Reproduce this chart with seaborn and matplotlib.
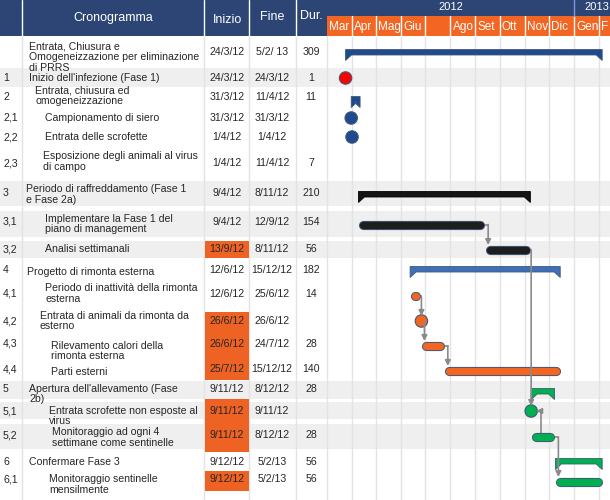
import datetime as dt
import matplotlib
matplotlib.use('Agg')
import matplotlib.pyplot as plt
import matplotlib.dates as mdates
from matplotlib.patches import Rectangle, Polygon
import pandas as pd
import seaborn as sns

# Data
ids = ['', '1', '2', '2,1', '2,2', '2,3', '3', '3,1', '3,2', '4', '4,1', '4,2',
       '4,3', '4,4', '5', '5,1', '5,2', '6', '6,1']
names = [
    "Entrata, Chiusura e\nOmogeneizzazione per eliminazione\ndi PRRS",
    "Inizio dell'infezione (Fase 1)",
    "Entrata, chiusura ed\nomogeneizzazione",
    "Campionamento di siero",
    "Entrata delle scrofette",
    "Esposizione degli animali al virus\ndi campo",
    "Periodo di raffreddamento (Fase 1\ne Fase 2a)",
    "Implementare la Fase 1 del\npiano di management",
    "Analisi settimanali",
    "Progetto di rimonta esterna",
    "Periodo di inattività della rimonta\nesterna",
    "Entrata di animali da rimonta da\nesterno",
    "Rilevamento calori della\nrimonta esterna",
    "Parti esterni",
    "Apertura dell'allevamento (Fase\n2b)",
    "Entrata scrofette non esposte al\nvirus",
    "Monitoraggio ad ogni 4\nsettimane come sentinelle",
    "Confermare Fase 3",
    "Monitoraggio sentinelle\nmensilmente",
]
starts = ['24/3/12', '24/3/12', '31/3/12', '31/3/12', '1/4/12', '1/4/12', '9/4/12',
          '9/4/12', '13/9/12', '12/6/12', '12/6/12', '26/6/12', '26/6/12', '25/7/12',
          '9/11/12', '9/11/12', '9/11/12', '9/12/12', '9/12/12']
ends = ['5/2/ 13', '24/3/12', '11/4/12', '31/3/12', '1/4/12', '11/4/12', '8/11/12',
        '12/9/12', '8/11/12', '15/12/12', '25/6/12', '26/6/12', '24/7/12', '15/12/12',
        '8/12/12', '9/11/12', '8/12/12', '5/2/13', '5/2/13']
durs = ['309', '1', '11', '', '', '7', '210', '154', '56', '182', '14', '', '28', '140',
        '28', '', '28', '56', '56']
kinds = ['summary', 'milestone', 'summary', 'milestone', 'milestone', 'task', 'summary',
         'task', 'task', 'summary', 'task', 'milestone', 'task', 'task', 'summary',
         'milestone', 'task', 'summary', 'task']
colors = ['#1F4A8E', '#FF0000', '#1F4A8E', '#1F4A8E', '#1F4A8E', '#1F4A8E', '#141414',
          '#1E1E1E', '#1E1E1E', '#3F6FB6', '#F26522', '#F26522', '#F26522', '#F26522',
          '#00B050', '#00B050', '#00B050', '#00B050', '#00B050']
late_start = ['3,2', '4,2', '4,3', '4,4', '5,1', '5,2', '6,1']
links = [('3,1', '3,2'), ('3,2', '5,1'), ('4,1', '4,2'), ('4,2', '4,3'),
         ('4,3', '4,4'), ('5,2', '5,1'), ('5,2', '6,1')]
months = ['Mar', 'Apr', 'Mag', 'Giu', '', 'Ago', 'Set', 'Ott', 'Nov', 'Dic', 'Gen', 'F']
years = ['2012', '2013']

# Layout (pixels from the top of the figure)
text_y = [57, 78, 95.5, 118, 137, 161.5, 194.5, 224, 249, 272, 293.5, 321, 351, 372,
          394, 416, 437.5, 462, 484.5]
date_y = [52, 78, 97, 118, 137, 163, 193, 222, 249, 270, 294, 321, 344, 369, 389, 411,
          435, 462, 479]
mark_y = [52.5, 78, 99.5, 118, 137, 163, 194.5, 224.5, 250, 269.5, 296, 321, 346, 371,
          391.5, 411, 437, 461.5, 482]
indent = [29, 29, 35, 45, 45, 43, 26, 45, 45, 27, 45, 40, 51, 51, 29, 49, 52, 29, 49]
cell_box = {'3,2': (241, 258), '4,2': (312, 333), '4,3': (333, 358), '4,4': (358, 380),
            '5,1': (399, 424), '5,2': (424, 452), '6,1': (471, 491)}
bands = [(68, 87), (181, 206), (211, 237), (241, 258), (381, 399), (402, 419), (424, 449)]

NAVY = '#2C4575'
ORANGE = '#F26522'
EDGE = '#3F5878'
GRID = '#E3E3E3'
W, H = 610, 500
GX = 327
PX_DAY = 0.807

sns.set_theme(style='white')
plt.rcParams['font.family'] = ['Liberation Sans', 'DejaVu Sans']

fig = plt.figure(figsize=(6.1, 5.0), dpi=100)
bg = fig.add_axes([0, 0, 1, 1])
bg.set_xlim(0, W)
bg.set_ylim(H, 0)
bg.axis('off')

# row bands
for y0, y1 in bands:
    bg.add_patch(Rectangle((0, y0), W, y1 - y0, color='#EFEFEF', lw=0, zorder=0))

# table grid lines
for x in [22, 204, 249, 296, 327]:
    bg.plot([x, x], [36, H], color=GRID, lw=1, zorder=1)

# table header
bg.add_patch(Rectangle((0, 0), GX, 36, color=NAVY, lw=0, zorder=2))
bg.add_patch(Rectangle((GX, 0), W - GX, 16, color=NAVY, lw=0, zorder=2))
bg.add_patch(Rectangle((GX, 16), W - GX, 20, color=ORANGE, lw=0, zorder=2))
for x in [22, 204, 249, 296]:
    bg.plot([x, x], [0, 36], color='white', lw=1, zorder=3)
for label, x, y in [('Cronogramma', 113, 18), ('Inizio', 227, 20), ('Fine', 272, 17),
                    ('Dur.', 311, 16)]:
    bg.text(x, y, label, color='white', fontsize=9, ha='center', va='center', zorder=4)

# table body
for i, rid in enumerate(ids):
    if rid in cell_box:
        y0, y1 = cell_box[rid]
        bg.add_patch(Rectangle((205, y0), 44, y1 - y0, color='#EE6223', lw=0, zorder=2))
    bg.text(3, date_y[i], rid, fontsize=7.6, ha='left', va='center', zorder=4)
    bg.text(indent[i], text_y[i], names[i], fontsize=7.6, ha='left', va='center',
            linespacing=1.12, zorder=4)
    bg.text(227, date_y[i], starts[i], fontsize=7.6, ha='center', va='center', zorder=4)
    bg.text(272, date_y[i], ends[i], fontsize=7.6, ha='center', va='center', zorder=4)
    bg.text(311, date_y[i], durs[i], fontsize=7.6, ha='center', va='center', zorder=4)

# gantt axes with a date x-scale
ax = fig.add_axes([GX / W, 0, (W - GX) / W, 1])
ax.patch.set_alpha(0)
x0 = mdates.date2num(dt.datetime(2012, 3, 1))
ax.set_xlim(x0, x0 + (W - GX) / PX_DAY)
ax.set_ylim(H, 0)


def px(n):
    return n / PX_DAY


def to_num(s):
    return mdates.date2num(dt.datetime.strptime(s.replace(' ', ''), '%d/%m/%y'))


s_num = [to_num(s) for s in starts]
e_num = [to_num(s) for s in ends]

month_starts = [mdates.date2num(dt.datetime(2012 + (2 + k) // 12, (2 + k) % 12 + 1, 1))
                for k in range(len(months))]
for k, m in enumerate(month_starts):
    if k > 0:
        ax.plot([m, m], [36, H], color=GRID, lw=1, zorder=1)
        ax.plot([m, m], [16, 36], color='white', lw=1, zorder=3)
    ax.text(m + px(2), 27, months[k], color='white', fontsize=8.5, ha='left',
            va='center', zorder=4, clip_on=True)
jan = mdates.date2num(dt.datetime(2013, 1, 1))
ax.plot([jan, jan], [0, 16], color='#7C9BD6', lw=1, zorder=3)
ax.text((x0 + jan) / 2, 7.5, years[0], color='white', fontsize=8, ha='center',
        va='center', zorder=4)
ax.text(jan + 28, 7.5, years[1], color='white', fontsize=8, ha='center', va='center',
        zorder=4, clip_on=True)

# summaries and tasks
for i, kind in enumerate(kinds):
    y = mark_y[i]
    s, e = s_num[i], e_num[i]
    if kind == 'summary':
        t = px(6)
        poly = [(s, y - 3), (e, y - 3), (e, y + 8), (e - t, y + 2.5), (s + t, y + 2.5),
                (s, y + 8)]
        ax.add_patch(Polygon(poly, closed=True, facecolor=colors[i],
                             edgecolor=EDGE if colors[i] != '#141414' else '#000000',
                             lw=0.6, zorder=5))
    elif kind == 'task':
        a, b = s + px(4.5), e - px(4.5)
        if b < a:
            a = b = (s + e) / 2
        ax.plot([a, b], [y, y], color=EDGE, lw=6.6, solid_capstyle='round', zorder=5)
        ax.plot([a, b], [y, y], color=colors[i], lw=5.2, solid_capstyle='round', zorder=6)

# milestones via seaborn
ms = pd.DataFrame({'id': [r for r, k in zip(ids, kinds) if k == 'milestone'],
                   'x': [s for s, k in zip(s_num, kinds) if k == 'milestone'],
                   'y': [y for y, k in zip(mark_y, kinds) if k == 'milestone']})
pal = {r: c for r, c, k in zip(ids, colors, kinds) if k == 'milestone'}
sns.scatterplot(data=ms, x='x', y='y', hue='id', palette=pal, legend=False, s=80,
                edgecolor=EDGE, linewidth=0.8, ax=ax, zorder=7)

# dependency links
for a, b in links:
    ia, ib = ids.index(a), ids.index(b)
    ya, yb = mark_y[ia], mark_y[ib]
    xb = s_num[ib]
    if yb > ya:
        xt = xb + (px(3) if kinds[ib] == 'task' else 0)
        end_a = e_num[ia] if kinds[ia] == 'task' else s_num[ia]
        pts = [(end_a, ya), (xt, ya), (xt, yb - 5)]
    else:
        xt = s_num[ia] + px(10)
        pts = [(xt, ya - 4.5), (xt, yb), (xb + px(5), yb)]
    ax.plot([p[0] for p in pts[:-1]], [p[1] for p in pts[:-1]], color='#8A8A8A',
            lw=1.2, zorder=4)
    ax.annotate('', xy=pts[-1], xytext=pts[-2],
                arrowprops=dict(arrowstyle='-|>', color='#8A8A8A', lw=1.2,
                                mutation_scale=8, shrinkA=0, shrinkB=0), zorder=8)

ax.axis('off')
fig.savefig('out.png', dpi=100)
